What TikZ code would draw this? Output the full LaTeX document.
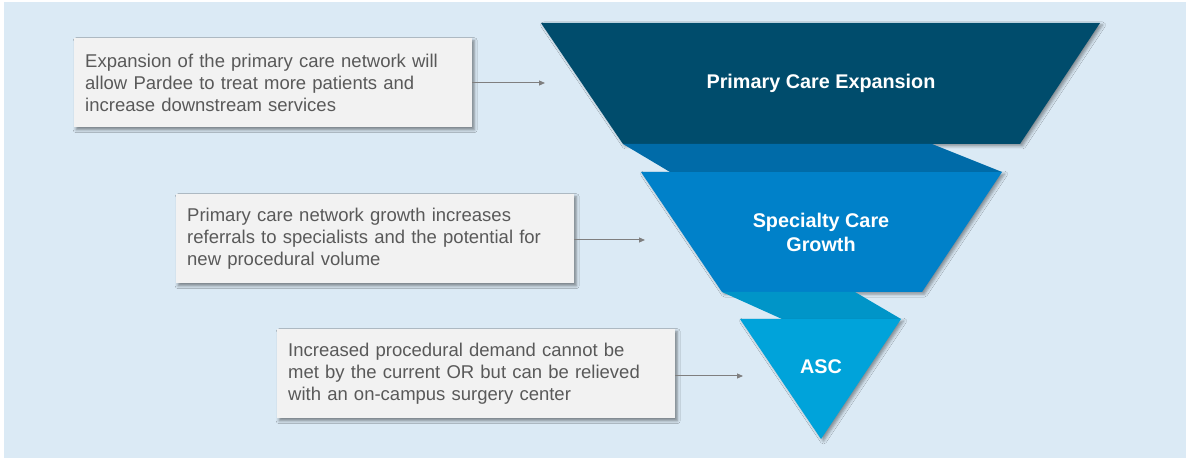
\documentclass[tikz,border=0pt]{standalone}
\usepackage{fontspec}
\setmainfont{Liberation Sans}
\usetikzlibrary{shadows.blur,arrows.meta}
\definecolor{bg}{HTML}{DBEAF5}
\definecolor{cA}{HTML}{004C6C}
\definecolor{cB}{HTML}{006BA8}
\definecolor{cC}{HTML}{0081C9}
\definecolor{cD}{HTML}{0095C8}
\definecolor{cE}{HTML}{00A3DA}
\definecolor{boxfill}{HTML}{F2F2F2}
\definecolor{txt}{HTML}{595959}
\definecolor{arr}{HTML}{7F7F7F}
\begin{document}
\begin{tikzpicture}[x=1bp,y=-1bp,
  infobox/.style={fill=boxfill, minimum width=398bp, minimum height=89bp,
    inner xsep=11bp, inner ysep=0bp, text width=376bp, align=left, text=txt,
    font=\fontsize{18.5bp}{22bp}\selectfont, anchor=north west,
    blur shadow={shadow xshift=2bp,shadow yshift=-2.5bp,shadow blur radius=3bp,shadow opacity=45}},
  funnelpart/.style={blur shadow={shadow xshift=2.5bp,shadow yshift=-2bp,shadow blur radius=3bp,shadow opacity=40}},
  title/.style={text=white, align=center, font=\bfseries\fontsize{19.8bp}{24bp}\selectfont},
  arrowline/.style={draw=arr, line width=1bp, -{Triangle[length=6bp,width=5bp]}}]
\useasboundingbox (0,0) rectangle (1186,458);
\fill[white] (0,0) rectangle (1186,458);
\fill[bg] (4,2) rectangle (1186,458);
% funnel
\fill[cA, funnelpart] (541,23) -- (1100,23) -- (1020,144) -- (623,144) -- cycle;
\fill[cB] (623,144) -- (932,144) -- (1002,172) -- (670,172) -- cycle;
\fill[cC, funnelpart] (641,172) -- (1002,172) -- (922,292) -- (722,292) -- cycle;
\fill[cD] (722,292) -- (855,292) -- (901,319) -- (782,319) -- cycle;
\fill[cE, funnelpart] (740,319) -- (901,319) -- (821,439) -- cycle;
\node[title] (t1) at (821,83) {Primary Care Expansion};
\node[title] (t2) at (821,232) {Specialty Care\\Growth};
\node[title] (t3) at (821,367) {ASC};
% boxes
\node[infobox] (b1) at (74,38) {Expansion of the primary care network will\\allow Pardee to treat more patients and\\increase downstream services};
\node[infobox] (b2) at (176,194) {Primary care network growth increases\\referrals to specialists and the potential for\\new procedural volume};
\node[infobox] (b3) at (277,329) {Increased procedural demand cannot be\\met by the current OR but can be relieved\\with an on-campus surgery center};
\coordinate (a1) at (545,83);
\coordinate (a2) at (645,240);
\coordinate (a3) at (743,376);
\draw[arrowline] (b1.east |- a1) -- (a1);
\draw[arrowline] (b2.east |- a2) -- (a2);
\draw[arrowline] (b3.east |- a3) -- (a3);
\end{tikzpicture}
\end{document}
